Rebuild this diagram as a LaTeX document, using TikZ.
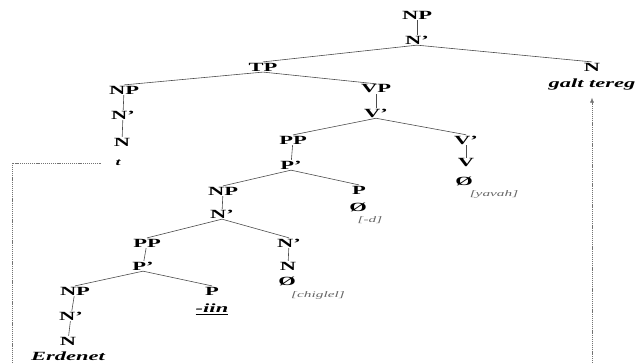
\documentclass[tikz,border=0pt]{standalone}
\usepackage{fontspec}
\setmainfont{Liberation Serif}[FakeStretch=1.8]
\usetikzlibrary{arrows.meta}
\begin{document}
\begin{tikzpicture}[x=1pt,y=-1pt,
  cat/.style={font=\fontsize{12.5}{14}\selectfont\bfseries, inner sep=0.8pt, text=black},
  word/.style={font=\fontsize{12.5}{14}\selectfont\bfseries\itshape, inner sep=0.8pt, text=black},
  gloss/.style={font=\fontsize{8.5}{10}\selectfont\itshape, inner sep=0.8pt, text=black!60},
  edge/.style={draw=black!70, line width=0.6pt},
  trace/.style={draw=black!55, line width=0.5pt, dash pattern=on 1.2pt off 0.9pt}]
\useasboundingbox (0,0) rectangle (639,363);
% top
\node[cat] (np0) at (417,15) {NP};
\node[cat] (nb0) at (417,40) {N'};
\node[cat] (tp) at (263,67) {TP};
\node[cat] (nh) at (592,67) {N};
\node[word] (galt) at (592,84) {galt tereg};
% subject NP
\node[cat] (np1) at (124,90) {NP};
\node[cat] (nb1) at (123,115) {N'};
\node[cat] (n1) at (122,142) {N};
\node[font=\fontsize{10}{12}\selectfont\bfseries\itshape, inner sep=0.8pt] (t) at (118,163) {t};
% VP
\node[cat] (vp) at (376,89) {VP};
\node[cat] (vb1) at (376,113) {V'};
\node[cat] (pp1) at (293,140) {PP};
\node[cat] (pb1) at (291,165) {P'};
\node[cat] (vb2) at (466,140) {V'};
\node[cat] (v) at (466,163) {V};
\node[cat] (ov) at (464,181) {Ø};
\node[gloss] (yavah) at (494,194) {[yavah]};
% inner NP
\node[cat] (np2) at (223,191) {NP};
\node[cat] (nb2) at (222,214) {N'};
\node[cat] (p1) at (359,190) {P};
\node[cat] (op) at (358,207) {Ø};
\node[gloss] (d) at (370,220) {[-d]};
\node[cat] (pp2) at (147,243) {PP};
\node[cat] (pb2) at (143,266) {P'};
\node[cat] (nb3) at (289,243) {N'};
\node[cat] (n3) at (288,266) {N};
\node[cat] (on) at (287,281) {Ø};
\node[gloss] (chiglel) at (318,295) {[chiglel]};
\node[cat] (np3) at (75,291) {NP};
\node[cat] (nb4) at (71,316) {N'};
\node[cat] (n4) at (68,341) {N};
\node[word] (erd) at (68,356) {Erdenet};
\node[cat] (p2) at (212,291) {P};
\node[word] (iin) at (212,309) {\underline{-iin}};
% edges
\draw[edge] (np0) -- (nb0);
\draw[edge] (nb0.south) -- (tp.north);
\draw[edge] (nb0.south) -- (nh.north);
\draw[edge] (tp.south) -- (np1.north);
\draw[edge] (tp.south) -- (vp.north);
\draw[edge] (np1) -- (nb1);
\draw[edge] (nb1) -- (n1);
\draw[edge] (vp) -- (vb1);
\draw[edge] (vb1.south) -- (pp1.north);
\draw[edge] (vb1.south) -- (vb2.north);
\draw[edge] (vb2) -- (v);
\draw[edge] (pp1) -- (pb1);
\draw[edge] (pb1.south) -- (np2.north);
\draw[edge] (pb1.south) -- (p1.north);
\draw[edge] (np2) -- (nb2);
\draw[edge] (nb2.south) -- (pp2.north);
\draw[edge] (nb2.south) -- (nb3.north);
\draw[edge] (nb3) -- (n3);
\draw[edge] (pp2) -- (pb2);
\draw[edge] (pb2.south) -- (np3.north);
\draw[edge] (pb2.south) -- (p2.north);
\draw[edge] (np3) -- (nb4);
\draw[edge] (nb4) -- (n4);
% movement trace
\coordinate (bl) at (12,363);
\coordinate (br) at (592,363);
\draw[trace] ([xshift=-14pt]t.west) -| (bl);
\draw[trace, -{Latex[length=5pt,width=4pt]}] (br) -- ([yshift=-7pt]galt.south);
\end{tikzpicture}
\end{document}
